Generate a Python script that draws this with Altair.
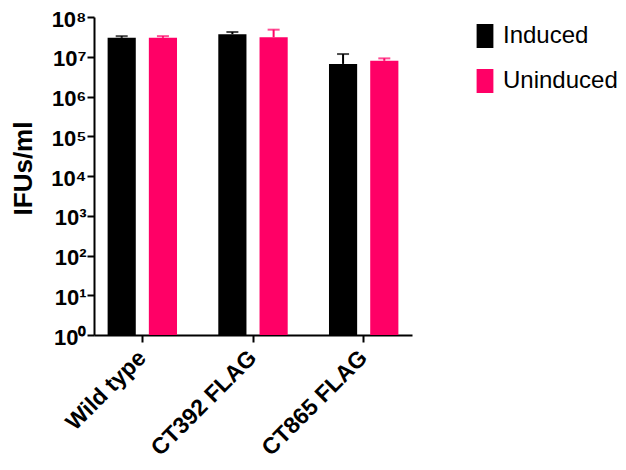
import altair as alt
import pandas as pd

strains = ["Wild type", "CT392 FLAG", "CT865 FLAG"]
conditions = ["Induced", "Uninduced"]
induced_mean = [3.0e7, 3.7e7, 6.6e6]
induced_upper = [3.3e7, 4.2e7, 1.17e7]
uninduced_mean = [3.0e7, 3.1e7, 7.9e6]
uninduced_upper = [3.3e7, 4.8e7, 9.1e6]
y_ticks = [1, 10, 100, 1e3, 1e4, 1e5, 1e6, 1e7, 1e8]

rows = []
for i, s in enumerate(strains):
    rows.append({"strain": s, "cond": "Induced", "mean": induced_mean[i], "upper": induced_upper[i], "base": 1})
    rows.append({"strain": s, "cond": "Uninduced", "mean": uninduced_mean[i], "upper": uninduced_upper[i], "base": 1})
df = pd.DataFrame(rows)

colors = ["#000000", "#FF0066"]
FONT = "Liberation Sans"

x_axis = alt.Axis(labelAngle=-45, labelAlign="right", labelBaseline="middle",
                  labelFontSize=23, labelFontWeight="bold", labelFont=FONT,
                  labelColor="black", labelPadding=12,
                  domainColor="black", domainWidth=2, tickColor="black",
                  tickWidth=2, tickSize=7, grid=False)
x_enc = alt.X("strain:N", sort=strains, title=None,
              scale=alt.Scale(paddingInner=0.373, paddingOuter=0.123), axis=x_axis)
xo = alt.XOffset("cond:N", sort=conditions, scale=alt.Scale(paddingInner=0.317, paddingOuter=0))
legend = alt.Legend(title=None, orient="none", legendX=379, legendY=7,
                    symbolType="M-0.7,-1L0.7,-1L0.7,1L-0.7,1Z",
                    symbolSize=576, symbolStrokeWidth=0, symbolOpacity=1,
                    labelFontSize=24, labelFont=FONT, labelColor="black",
                    labelOffset=6, rowPadding=21, padding=0)
color_enc = alt.Color("cond:N", sort=conditions,
                      scale=alt.Scale(domain=conditions, range=colors), legend=legend)

y_scale = alt.Scale(type="log", domain=[1, 1e8])
y_axis = alt.Axis(values=y_ticks, title="IFUs/ml", titleFontSize=26, titleFont=FONT,
                  titleFontWeight="bold", titleColor="black",
                  titleX=-71, titleY=151, titleBaseline="middle", titleAlign="center", titleAngle=-90,
                  labelFontSize=22, labelFontWeight="bold", labelFont=FONT, labelColor="black",
                  labelPadding=1, labelBaseline="middle", labelOffset=2,
                  labelExpr='"10" + ["⁰","¹","²","³","⁴","⁵","⁶","⁷","⁸"][round(log(datum.value)/LN10)]',
                  domainColor="black", domainWidth=2, tickColor="black", tickWidth=2, tickSize=7,
                  grid=False)

base = alt.Chart(df)
bars = base.mark_bar().encode(
    x=x_enc, xOffset=xo,
    y=alt.Y("mean:Q", scale=y_scale, axis=y_axis),
    y2="base:Q",
    color=color_enc,
)
err = base.mark_rule(strokeWidth=2).encode(
    x=alt.X("strain:N", sort=strains), xOffset=xo,
    y="mean:Q", y2="upper:Q",
    color=color_enc,
)
caps = base.mark_tick(thickness=2, size=12, orient="horizontal").encode(
    x=alt.X("strain:N", sort=strains), xOffset=xo,
    y="upper:Q",
    color=color_enc,
)

chart = alt.layer(bars, err, caps).properties(
    width=318, height=318,
    autosize=alt.AutoSizeParams(type="none"),
    padding={"left": 86, "top": 9, "right": 206, "bottom": 127},
).configure(background="white", view=alt.ViewConfig(stroke=None))

chart.save("out.html", embed_options={"renderer": "svg", "actions": False})
